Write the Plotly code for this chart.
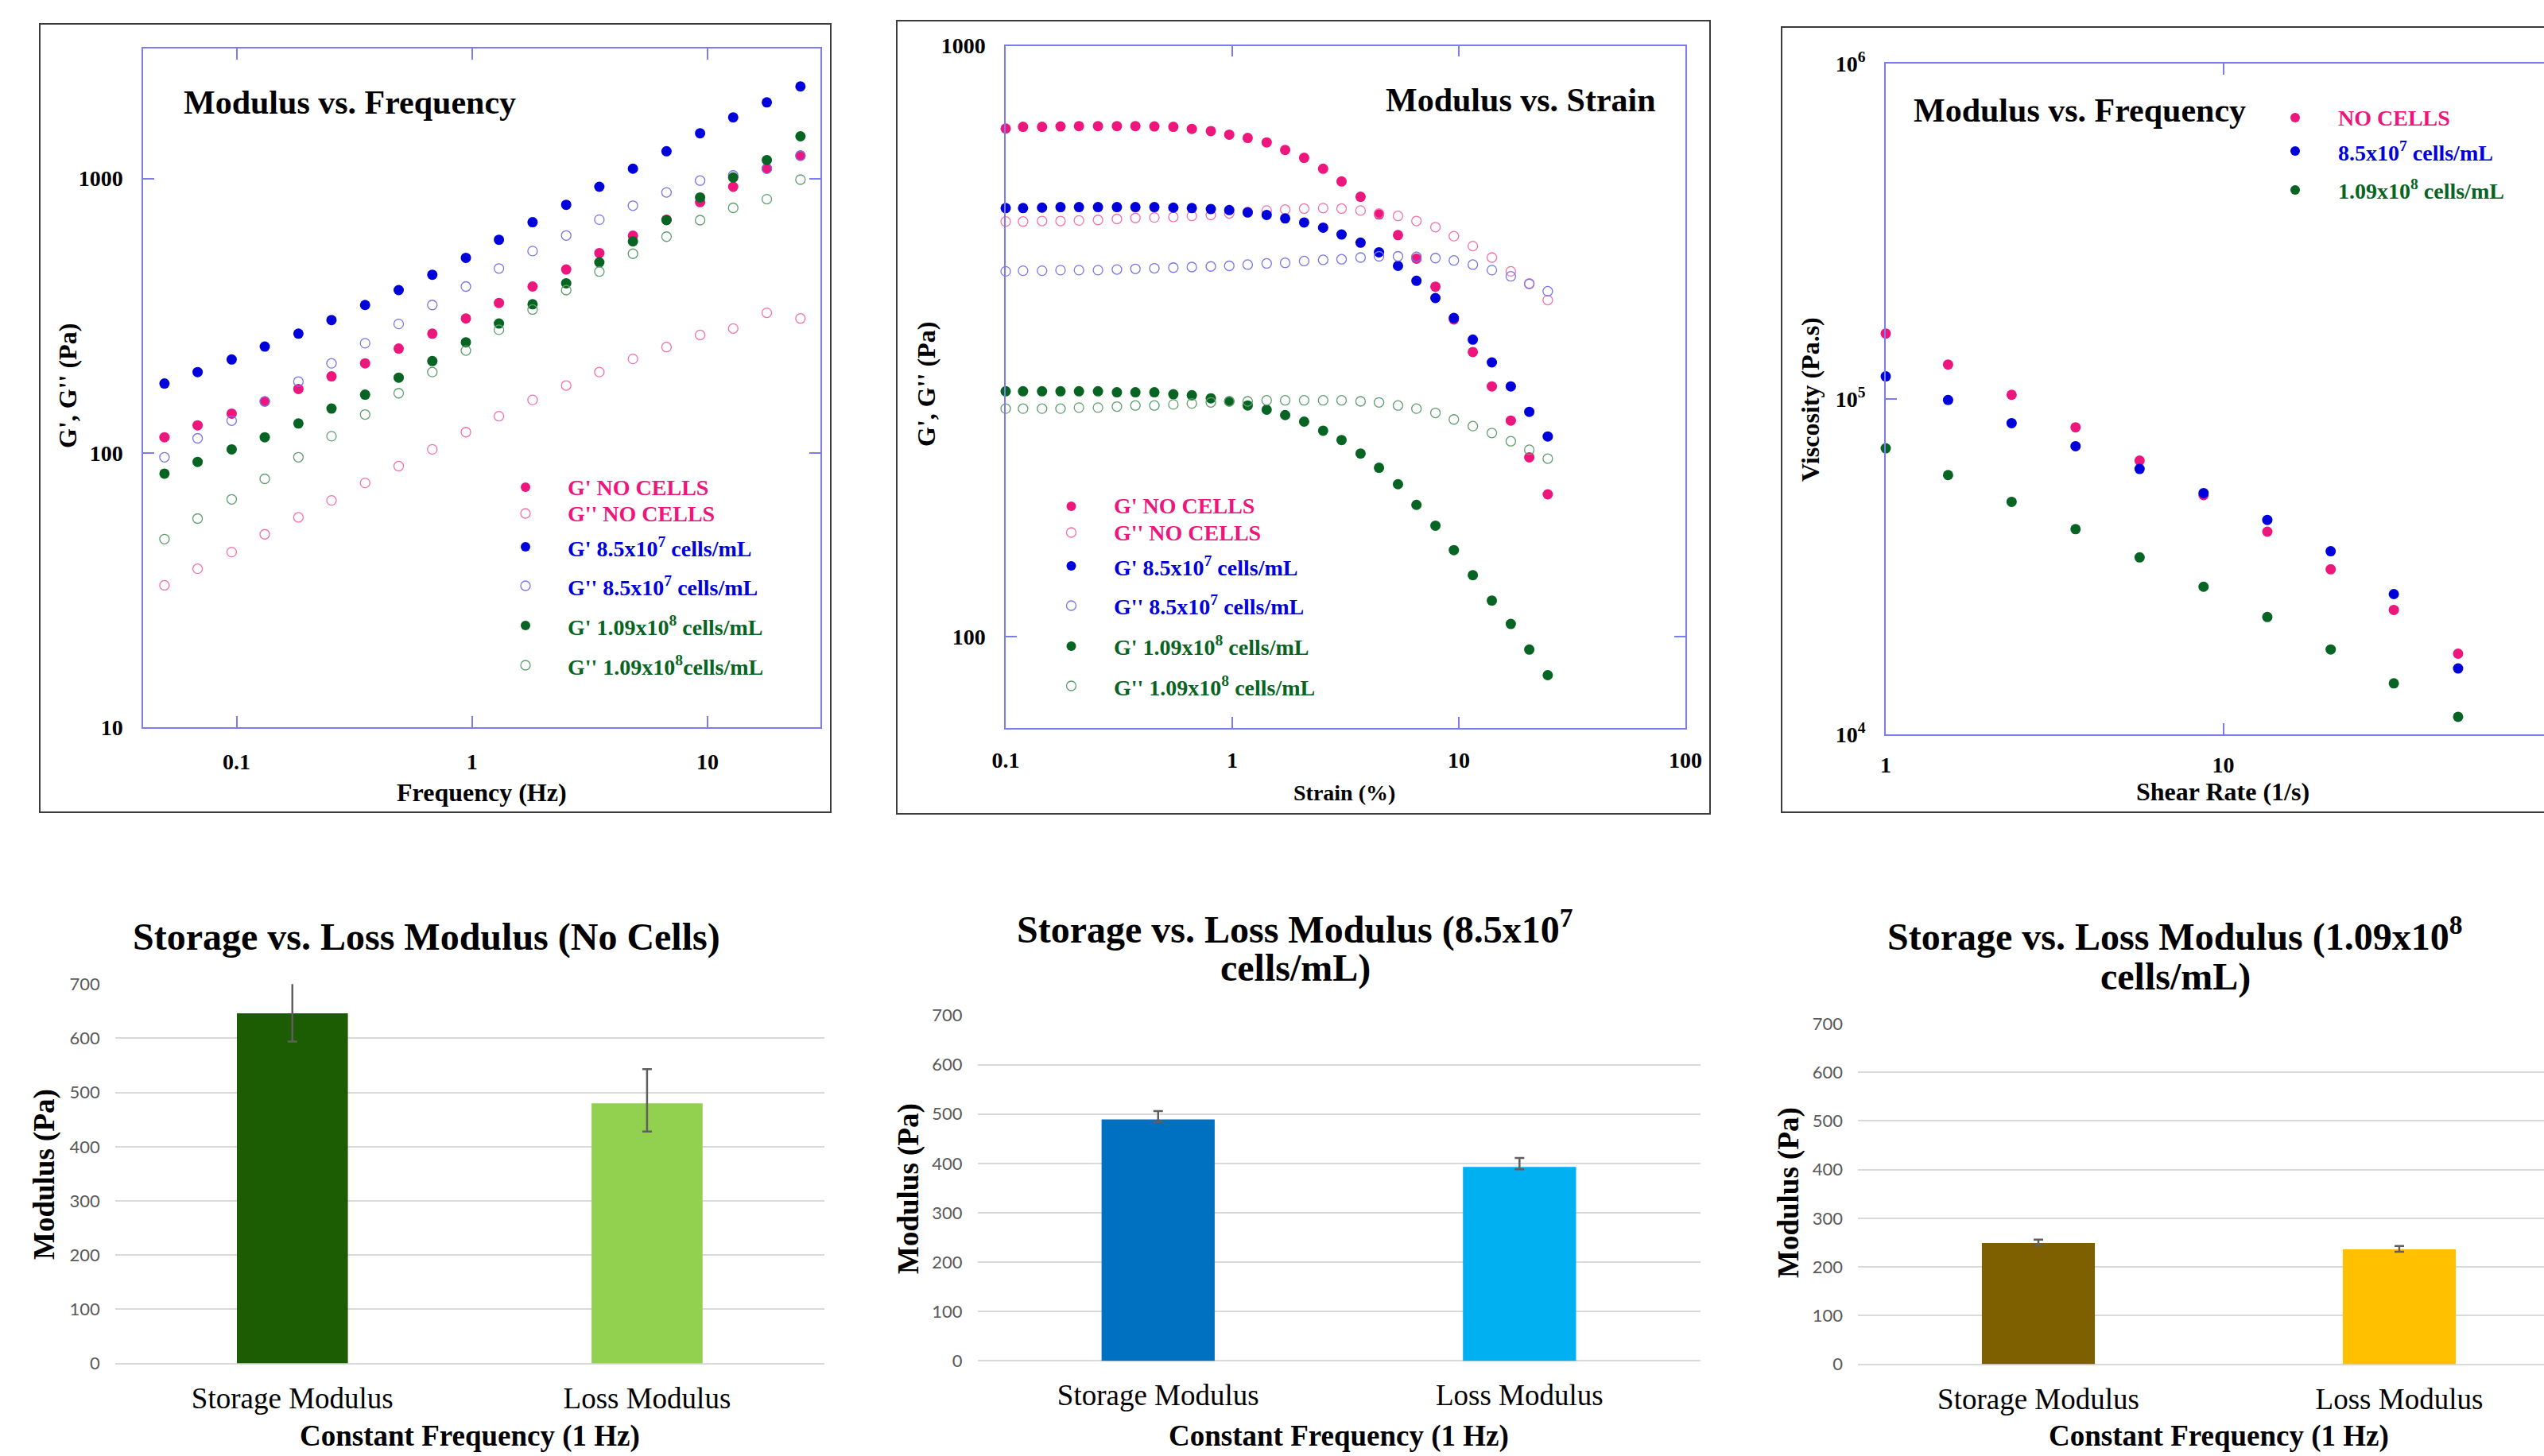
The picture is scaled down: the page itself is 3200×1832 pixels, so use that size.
import plotly.graph_objects as go

W, H = 3200, 1832
SERIF = "Liberation Serif"

# ---------------- DATA ----------------
freq_hz = [0.0494, 0.0683, 0.0953, 0.1317, 0.183, 0.2529, 0.3512, 0.4878, 0.6776, 0.941,
           1.30, 1.806, 2.509, 3.469, 4.818, 6.69, 9.29, 12.84, 17.84, 24.78]
fs_gp_nocells = [114, 126, 139, 154, 171, 190, 212, 240, 272, 309, 352, 404, 466, 535, 619, 708, 820, 933, 1090, 1214]
fs_gpp_nocells = [32.9, 37.8, 43.5, 50.5, 58.2, 67.1, 77.7, 89.5, 103, 119, 136, 156, 176, 197, 220, 243, 269, 284, 324, 309]
fs_gp_85 = [179, 197, 219, 244, 272, 305, 346, 392, 446, 514, 598, 693, 802, 933, 1086, 1257, 1462, 1671, 1894, 2166]
fs_gpp_85 = [96.4, 113, 131, 154, 182, 212, 251, 295, 346, 404, 470, 544, 620, 708, 796, 890, 983, 1026, 1085, 1210]
fs_gp_109 = [84, 92.7, 103, 114, 128, 145, 163, 188, 216, 253, 296, 348, 415, 495, 590, 705, 853, 1009, 1167, 1425]
fs_gpp_109 = [48.5, 57.6, 67.7, 80.4, 96.4, 115, 138, 165, 197, 236, 281, 333, 392, 458, 532, 614, 705, 782, 841, 991]

strain_pct = [0.1, 0.1193, 0.1447, 0.1746, 0.2106, 0.2555, 0.3097, 0.3737, 0.4532, 0.5496,
              0.6632, 0.8043, 0.970, 1.170, 1.419, 1.712, 2.076, 2.518, 3.037, 3.684,
              4.443, 5.389, 6.501, 7.884, 9.509, 11.53, 13.99, 16.96, 20.46, 24.69]
ss_gp_nocells = [724, 729, 729, 730, 731, 731, 731, 731, 730, 729, 723, 717, 707, 698, 686,
                 666, 646, 619, 589, 555, 518, 478, 436, 391, 344, 303, 265, 232, 201, 174]
ss_gpp_nocells = [504, 504, 505, 505, 506, 507, 509, 511, 512, 513, 515, 517, 520, 523, 526,
                  528, 530, 531, 530, 526, 520, 515, 505, 493, 476, 458, 438, 415, 396, 371]
ss_gp_85 = [531, 531, 532, 533, 533, 533, 533, 533, 533, 532, 531, 529, 527, 522, 517,
            510, 502, 492, 479, 464, 447, 424, 400, 374, 346, 318, 291, 265, 240, 218]
ss_gpp_85 = [415, 416, 416, 417, 417, 417, 418, 419, 420, 421, 422, 423, 424, 426, 428,
             429, 432, 434, 435, 438, 440, 440, 439, 437, 433, 426, 417, 407, 395, 384]
ss_gp_109 = [260, 260, 260, 260, 260, 260, 259, 259, 259, 257, 256, 253, 250, 246, 242,
             237, 231, 223, 215, 204, 193, 181, 167, 154, 140, 127, 115, 105, 95, 86]
ss_gpp_109 = [243, 243, 243, 243, 244, 244, 245, 246, 246, 247, 248, 249, 250, 250, 251,
              251, 251, 251, 251, 250, 249, 246, 243, 239, 233, 227, 221, 214, 207, 200]

shear_rate = [1.0, 1.53, 2.36, 3.65, 5.65, 8.74, 13.5, 20.8, 32.0, 49.6]
visc_nocells = [156700, 126700, 102900, 82300, 65500, 51700, 40200, 31050, 23500, 17400]
visc_85 = [116800, 99300, 84700, 72300, 61850, 52400, 43600, 35150, 26200, 15720]
visc_109 = [71270, 59300, 49350, 40900, 33700, 27550, 22380, 17910, 14190, 11280]

bar_cats = ["Storage Modulus", "Loss Modulus"]
nocells_mod = [646, 480]
nocells_err_plus = [56, 63]
nocells_err_minus = [52, 52]
cells85_mod = [489, 393]
cells85_err_plus = [17, 18]
cells85_err_minus = [5, 5]
cells109_mod = [249, 236]
cells109_err_plus = [7, 7]
cells109_err_minus = [5, 5]

# ---------------- STYLE ----------------
PINK = "rgb(236,22,124)"
PINK_O = "rgb(244,112,172)"
BLUE = "rgb(0,0,218)"
BLUE_O = "rgb(118,118,236)"
GREEN = "rgb(8,100,34)"
GREEN_O = "rgb(96,158,110)"
FRAME = "rgb(124,124,240)"


def X(px):
    return px / W


def Y(py):
    return 1 - py / H


fig = go.Figure()


def add_series(x, y, ax, color, filled, ocolor=None):
    if filled:
        m = dict(symbol="circle", size=13, color=color, line=dict(width=0))
    else:
        m = dict(symbol="circle-open", size=12, color=ocolor, line=dict(width=1.3, color=ocolor))
    fig.add_trace(go.Scatter(x=x, y=y, mode="markers", marker=m,
                             xaxis="x" + ax, yaxis="y" + ax, showlegend=False, cliponaxis=False))


# Panel 1 : modulus vs frequency
add_series(freq_hz, fs_gp_nocells, "", PINK, True)
add_series(freq_hz, fs_gpp_nocells, "", None, False, PINK_O)
add_series(freq_hz, fs_gp_85, "", BLUE, True)
add_series(freq_hz, fs_gpp_85, "", None, False, BLUE_O)
add_series(freq_hz, fs_gp_109, "", GREEN, True)
add_series(freq_hz, fs_gpp_109, "", None, False, GREEN_O)

# Panel 2 : modulus vs strain
add_series(strain_pct, ss_gp_nocells, "2", PINK, True)
add_series(strain_pct, ss_gpp_nocells, "2", None, False, PINK_O)
add_series(strain_pct, ss_gp_85, "2", BLUE, True)
add_series(strain_pct, ss_gpp_85, "2", None, False, BLUE_O)
add_series(strain_pct, ss_gp_109, "2", GREEN, True)
add_series(strain_pct, ss_gpp_109, "2", None, False, GREEN_O)

# Panel 3 : viscosity
add_series(shear_rate, visc_nocells, "3", PINK, True)
add_series(shear_rate, visc_85, "3", BLUE, True)
add_series(shear_rate, visc_109, "3", GREEN, True)

# Bars
ERRC = "rgb(95,95,95)"


def add_bars(vals, plus, minus, colors, ax):
    fig.add_trace(go.Bar(x=bar_cats, y=vals, width=0.313, marker=dict(color=colors, line=dict(width=0)),
                         error_y=dict(type="data", symmetric=False, array=plus, arrayminus=minus,
                                      color=ERRC, thickness=2.5, width=6),
                         xaxis="x" + ax, yaxis="y" + ax, showlegend=False, cliponaxis=False))


add_bars(nocells_mod, nocells_err_plus, nocells_err_minus, ["#1C5C02", "#92D050"], "4")
add_bars(cells85_mod, cells85_err_plus, cells85_err_minus, ["#0070C0", "#00B0F0"], "5")
add_bars(cells109_mod, cells109_err_plus, cells109_err_minus, ["#7F6000", "#FFC000"], "6")

TICKFONT = dict(family=SERIF, size=28, color="black", weight="bold")


def logaxis(domain, rng, tickvals, ticktext, anchor, mirror="ticks", standoff=18):
    return dict(type="log", domain=domain, range=rng, tickvals=tickvals, ticktext=ticktext,
                showline=True, linecolor=FRAME, linewidth=1.5, mirror=mirror,
                ticks="inside", ticklen=14, tickwidth=1.5, tickcolor=FRAME,
                showgrid=False, zeroline=False, tickfont=TICKFONT, anchor=anchor,
                ticklabelstandoff=standoff, automargin=False)


def baraxes(xdom, ydom, xrng, anchor_x, anchor_y):
    xa = dict(type="category", domain=xdom, range=xrng, showline=False, showgrid=False,
              zeroline=False, ticks="", anchor=anchor_y, automargin=False,
              tickfont=dict(family=SERIF, size=37, color="black"), ticklabelstandoff=18)
    ya = dict(domain=ydom, range=[0, 700], dtick=100, tick0=0, showline=False, showgrid=True,
              gridcolor="#D9D9D9", gridwidth=2, zeroline=True, zerolinecolor="#D9D9D9",
              zerolinewidth=2, ticks="", anchor=anchor_x, automargin=False,
              tickfont=dict(family="Lato", size=22, color="#595959"), ticklabelstandoff=18)
    return xa, ya


layout = dict(width=W, height=H, autosize=False,
              margin=dict(l=0, r=0, t=0, b=0, pad=0, autoexpand=False),
              paper_bgcolor="white", plot_bgcolor="white", showlegend=False)

layout["xaxis"] = logaxis([X(180), X(1032)], [-1.397, 1.479], [0.1, 1, 10], ["0.1", "1", "10"], "y")
layout["yaxis"] = logaxis([Y(915), Y(61)], [1, 3.474], [10, 100, 1000], ["10", "100", "1000"], "x")
layout["xaxis2"] = logaxis([X(1265), X(2120)], [-1, 2], [0.1, 1, 10, 100], ["0.1", "1", "10", "100"], "y2",
                           standoff=15)
layout["yaxis2"] = logaxis([Y(916), Y(57.5)], [1.845, 3], [100, 1000], ["100", "1000"], "x2")
layout["xaxis3"] = logaxis([X(2372), 1.0], [0, 1.95], [1, 10], ["1", "10"], "y3", standoff=13)
layout["yaxis3"] = logaxis([Y(924), Y(80)], [4, 6], [1e4, 1e5, 1e6],
                           ["10<sup>4</sup>", "10<sup>5</sup>", "10<sup>6</sup>"], "x3", mirror=False)

xa, ya = baraxes([X(144.7), X(1037)], [Y(1715.6), Y(1238.2)], [-0.5, 1.5], "x4", "y4")
layout["xaxis4"], layout["yaxis4"] = xa, ya
xa, ya = baraxes([X(1229.5), X(2138.6)], [Y(1712.4), Y(1277.5)], [-0.5, 1.5], "x5", "y5")
layout["xaxis5"], layout["yaxis5"] = xa, ya
xa, ya = baraxes([X(2337), 1.0], [Y(1716.5), Y(1288)], [-0.5, 1.401], "x6", "y6")
layout["xaxis6"], layout["yaxis6"] = xa, ya

fig.update_layout(**layout)

# ---------------- decorations ----------------
shapes = []
for (x0, x1, y0, y1) in [(50, 1045, 30, 1022), (1128, 2151, 26, 1024), (2241, 3215, 34, 1022)]:
    shapes.append(dict(type="rect", xref="paper", yref="paper", x0=X(x0), x1=X(x1), y0=Y(y1), y1=Y(y0),
                       line=dict(color="rgb(60,60,60)", width=2), fillcolor="rgba(0,0,0,0)", layer="below"))

annotations = []


def ann(text, px, py, size, xanchor="center", yanchor="middle", color="black", bold=True, angle=0):
    annotations.append(dict(text=text, x=X(px), y=Y(py), xref="paper", yref="paper", showarrow=False,
                            xanchor=xanchor, yanchor=yanchor, textangle=angle,
                            font=dict(family=SERIF, size=size, color=color,
                                      weight="bold" if bold else "normal")))


def legend_item(mx, tx, py, color, filled, text, tcolor):
    if filled:
        shapes.append(dict(type="circle", xref="paper", yref="paper", xsizemode="pixel", ysizemode="pixel",
                           xanchor=X(mx), yanchor=Y(py), x0=-6, x1=6, y0=-6, y1=6,
                           fillcolor=color, line=dict(width=0)))
    else:
        shapes.append(dict(type="circle", xref="paper", yref="paper", xsizemode="pixel", ysizemode="pixel",
                           xanchor=X(mx), yanchor=Y(py), x0=-6, x1=6, y0=-6, y1=6,
                           fillcolor="rgba(0,0,0,0)", line=dict(width=1.3, color=color)))
    ann(text, tx, py, 28, xanchor="left", color=tcolor)


leg_texts = ["G' NO CELLS", "G'' NO CELLS", "G' 8.5x10<sup>7</sup> cells/mL", "G'' 8.5x10<sup>7</sup> cells/mL",
             "G' 1.09x10<sup>8</sup> cells/mL", "G'' 1.09x10<sup>8</sup>cells/mL"]
leg_cols = [(PINK, True, PINK), (PINK_O, False, PINK), (BLUE, True, BLUE), (BLUE_O, False, BLUE),
            (GREEN, True, GREEN), (GREEN_O, False, GREEN)]
for i, py in enumerate([613, 646, 688, 737, 787, 837]):
    c, f, tc = leg_cols[i]
    legend_item(661, 712, py, c, f, leg_texts[i], tc)
leg_texts2 = leg_texts[:5] + ["G'' 1.09x10<sup>8</sup> cells/mL"]
for i, py in enumerate([637, 670, 712, 762, 813, 863]):
    c, f, tc = leg_cols[i]
    legend_item(1347.5, 1398.5, py, c, f, leg_texts2[i], tc)
for py, c, t in [(148, PINK, "NO CELLS"), (190, BLUE, "8.5x10<sup>7</sup> cells/mL"),
                 (239, GREEN, "1.09x10<sup>8</sup> cells/mL")]:
    legend_item(2887, 2938.5, py, c, True, t, c)

# panel titles (top)
ann("Modulus vs. Frequency", 229, 129, 42, xanchor="left")
ann("Modulus vs. Strain", 2085, 126, 42, xanchor="right")
ann("Modulus vs. Frequency", 2405, 139, 42, xanchor="left")
# axis titles (top)
ann("Frequency (Hz)", 606, 997, 32)
ann("G', G'' (Pa)", 85, 486, 32, angle=-90)
ann("Strain (%)", 1691, 997, 28)
ann("G', G'' (Pa)", 1165, 484, 32, angle=-90)
ann("Shear Rate (1/s)", 2796, 996, 32)
ann("Viscosity (Pa.s)", 2277, 503, 32, angle=-90)

# bar chart titles
ann("Storage vs. Loss Modulus (No Cells)", 536, 1179, 48)
ann("Storage vs. Loss Modulus (8.5x10<sup>7</sup>", 1629, 1166, 48)
ann("cells/mL)", 1629, 1218, 48)
ann("Storage vs. Loss Modulus (1.09x10<sup>8</sup>", 2736, 1175, 48)
ann("cells/mL)", 2736, 1229, 48)
for cx, cy, yx, yy in [(591, 1807, 56, 1478), (1684, 1807, 1143, 1496), (2791, 1807, 2250, 1501)]:
    ann("Constant Frequency (1 Hz)", cx, cy, 37)
    ann("Modulus (Pa)", yx, yy, 37, angle=-90)

fig.update_layout(shapes=shapes, annotations=annotations)
fig.write_html("out.html", config={"displayModeBar": False},
               post_script="document.body.style.margin='0';document.body.style.padding='0';")
